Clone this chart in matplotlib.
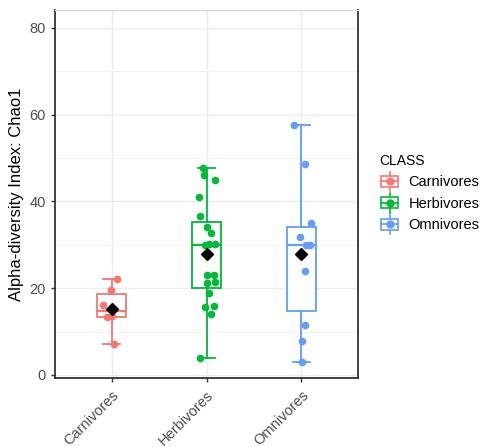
import matplotlib
matplotlib.use("Agg")
import matplotlib.pyplot as plt
import numpy as np
from matplotlib.lines import Line2D
from matplotlib.patches import Rectangle
from matplotlib.legend_handler import HandlerBase

plt.rcParams['font.family'] = ['Liberation Sans', 'DejaVu Sans']

classes = ["Carnivores", "Herbivores", "Omnivores"]
colors = ["#F8766D", "#00BA38", "#619CFF"]

# Chao1 per sample
carnivores = [22.1, 19.6, 16.1, 13.5, 13.4, 7.1]
herbivores = [47.6, 46.1, 44.9, 41.1, 36.6, 34.0, 32.6, 30.2, 30.1, 30.0,
              23.0, 23.0, 21.5, 21.1, 18.8, 16.0, 15.6, 14.1, 4.0]
omnivores = [57.6, 48.5, 35.0, 31.7, 30.0, 30.0, 24.0, 11.5, 7.9, 2.9]

# horizontal jitter of the points (category units)
jit_carn = [0.05, -0.01, -0.09, 0.0, -0.05, 0.02]
jit_herb = [-0.04, -0.03, 0.09, -0.08, -0.07, 0.01, 0.05, 0.03, 0.09, -0.02,
            0.01, 0.08, 0.09, 0.01, 0.03, 0.08, -0.02, 0.05, -0.07]
jit_omni = [-0.08, 0.04, 0.10, -0.01, 0.05, 0.09, 0.04, 0.04, 0.01, 0.01]

data = [carnivores, herbivores, omnivores]
jitter = [jit_carn, jit_herb, jit_omni]
pos = np.arange(1, len(classes) + 1)


class BoxKey(HandlerBase):
    # little boxplot glyph for the legend
    def create_artists(self, legend, orig_handle, xdescent, ydescent,
                       width, height, fontsize, trans):
        c = orig_handle.get_color()
        x0, y0 = -xdescent, -ydescent
        cx, cy = x0 + width / 2, y0 + height / 2
        lw = 1.2
        arts = [
            Line2D([cx, cx], [y0 - 2, y0 + height + 2], color=c, lw=lw),
            Rectangle((x0 + width * 0.1, y0 + height * 0.12), width * 0.8, height * 0.76,
                      fc="white", ec=c, lw=lw),
            Line2D([x0 + width * 0.1, x0 + width * 0.9], [cy, cy], color=c, lw=lw),
            Line2D([cx], [cy], marker="o", color=c, ms=5, lw=0),
        ]
        for a in arts:
            a.set_transform(trans)
        return arts


fig = plt.figure(figsize=(4.85, 4.47), dpi=100)
ax = fig.add_axes([55 / 485, 1 - 378 / 447, 303 / 485, 368 / 447])

# grid
ax.set_yticks([10, 30, 50, 70], minor=True)
ax.grid(which="major", color="#EBEBEB", lw=1.0, zorder=0)
ax.grid(which="minor", axis="y", color="#F2F2F2", lw=0.7, zorder=0)
ax.set_axisbelow(True)

for i, (vals, c) in enumerate(zip(data, colors)):
    ax.boxplot([vals], positions=[pos[i]], widths=0.31, showfliers=False,
               patch_artist=True, capwidths=0.18,
               boxprops=dict(facecolor="white", edgecolor=c, lw=1.3),
               medianprops=dict(color=c, lw=1.6),
               whiskerprops=dict(color=c, lw=1.3),
               capprops=dict(color=c, lw=1.3),
               zorder=2)
    ax.plot(pos[i] + np.array(jitter[i]), vals, "o", color=c, ms=5.5, mew=0, zorder=3)
    ax.plot(pos[i], np.mean(vals), "D", color="black", ms=6.5, zorder=4)

ax.set_xlim(0.4, 3.6)
ax.set_ylim(-0.7, 84.1)
ax.set_yticks([0, 20, 40, 60, 80])
ax.set_xticks(pos)
ax.set_xticklabels(classes, rotation=45, ha="right", va="top",
                   rotation_mode="anchor")
ax.tick_params(axis="both", colors="#333333", labelcolor="#4D4D4D",
               labelsize=10.5, length=3, width=1)
ax.tick_params(axis="y", which="minor", length=0)
ax.tick_params(axis="x", pad=4)

for s in ["left", "bottom", "right"]:
    ax.spines[s].set_color("#333333")
    ax.spines[s].set_linewidth(1.3)
ax.spines["top"].set_color("#D9D9D9")
ax.spines["top"].set_linewidth(1.0)

ax.set_ylabel("Alpha-diversity Index: Chao1", fontsize=12, color="black", labelpad=4)

handles = [Line2D([], [], color=c) for c in colors]
leg = fig.legend(handles, classes, title="CLASS", loc="center left",
                 bbox_to_anchor=(366 / 485, 1 - 193 / 447), frameon=False,
                 handler_map={Line2D: BoxKey()}, fontsize=10.5,
                 title_fontsize=10, handlelength=1.45, handleheight=1.1,
                 labelspacing=0.45, handletextpad=0.55, alignment="left")

fig.savefig("out.png", dpi=100)
